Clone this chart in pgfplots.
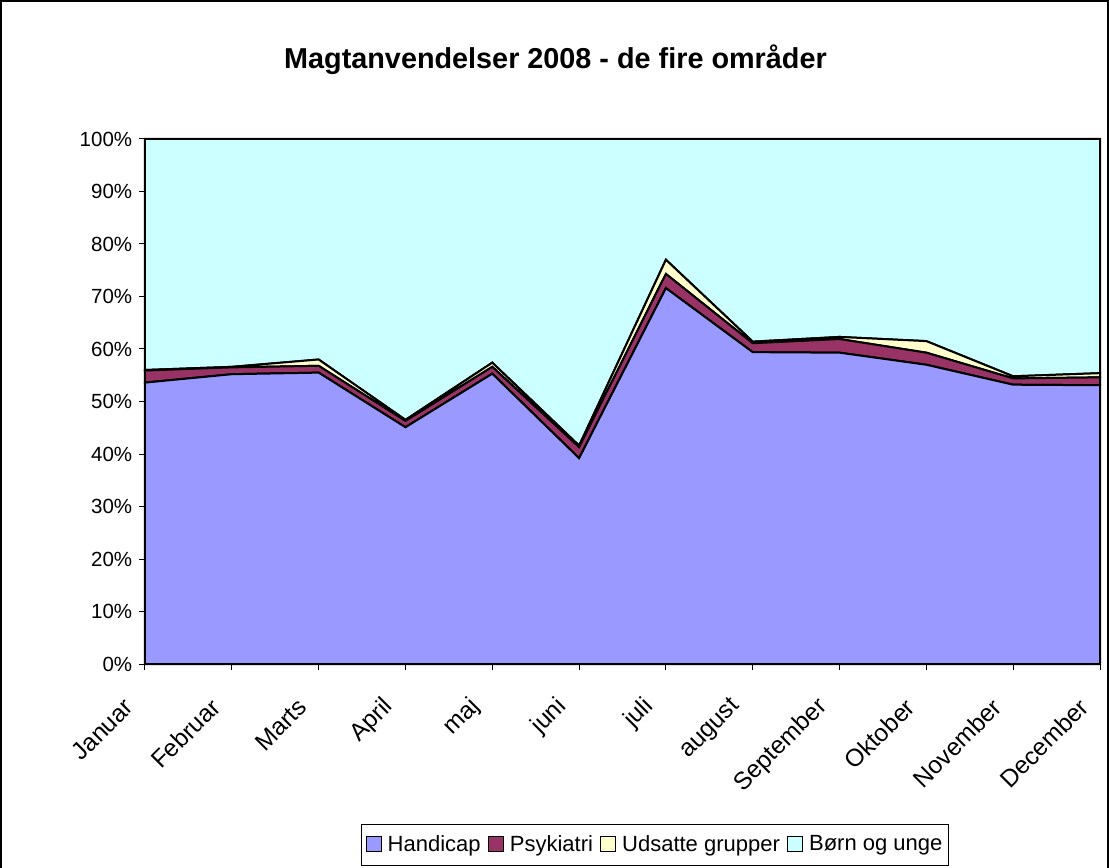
\documentclass[border=0pt]{standalone}
\usepackage{pgfplots}
\pgfplotsset{compat=1.18}
\usepackage{fontspec}
\setmainfont{Liberation Sans}
\definecolor{hand}{HTML}{9999FF}
\definecolor{psyk}{HTML}{993366}
\definecolor{uds}{HTML}{FFFFCC}
\definecolor{born}{HTML}{CCFFFF}
\begin{document}
\fontsize{20bp}{24bp}\selectfont
\begin{tikzpicture}
\begin{axis}[
  scale only axis,
  width=955bp, height=525bp,
  at={(0,0)}, anchor=south west,
  xmin=0, xmax=11, ymin=0, ymax=100,
  stack plots=y,
  axis x line=bottom, axis y line=left,
  axis line style={-, line width=1bp},
  xtick={0,...,11},
  xticklabels={Januar,Februar,Marts,April,maj,juni,juli,august,September,Oktober,November,December},
  ytick={0,10,...,100},
  yticklabels={0\%,10\%,20\%,30\%,40\%,50\%,60\%,70\%,80\%,90\%,100\%},
  tick align=outside,
  major tick length=6bp,
  tick style={black, line width=1bp},
  every tick label/.append style={font=\fontsize{20.5bp}{24bp}\selectfont},
  x tick label style={font=\fontsize{24.5bp}{28bp}\selectfont, inner sep=0pt, xshift=-16bp, yshift=-33bp, rotate=45, anchor=east},
  legend columns=4,
  legend style={at={(0.534,-0.344)}, anchor=center, draw=black, line width=1bp,
    font=\fontsize{22bp}{26bp}\selectfont, inner xsep=4bp, inner ysep=9bp,
    /tikz/every odd column/.append style={column sep=4bp},
    /tikz/every even column/.append style={column sep=5bp}},
  legend image code/.code={\draw[#1, line width=1.2bp, draw=black] (0bp,-7bp) rectangle (15bp,8bp);},
  clip=false,
]
\addplot[fill=hand, draw=black, line width=2bp] coordinates {(0,53.6) (1,55.2) (2,55.5) (3,45.1) (4,55.3) (5,39.2) (6,71.6) (7,59.4) (8,59.3) (9,57.0) (10,53.2) (11,53.1)} \closedcycle;
\addlegendentry{Handicap}
\addplot[fill=psyk, draw=black, line width=2bp] coordinates {(0,2.3) (1,1.3) (2,1.3) (3,1.2) (4,1.3) (5,2.1) (6,2.7) (7,1.7) (8,2.6) (9,2.3) (10,1.2) (11,1.5)} \closedcycle;
\addlegendentry{Psykiatri}
\addplot[fill=uds, draw=black, line width=2bp] coordinates {(0,0.1) (1,0.1) (2,1.2) (3,0.2) (4,0.8) (5,0.3) (6,2.7) (7,0.3) (8,0.4) (9,2.2) (10,0.4) (11,0.8)} \closedcycle;
\addlegendentry{Udsatte grupper}
\addplot[fill=born, draw=black, line width=2bp] coordinates {(0,44.0) (1,43.4) (2,42.0) (3,53.5) (4,42.6) (5,58.4) (6,23.0) (7,38.6) (8,37.7) (9,38.5) (10,45.2) (11,44.6)} \closedcycle;
\addlegendentry{Børn og unge}
\end{axis}
\node[font=\fontsize{28.8bp}{32bp}\selectfont\bfseries] at (410.5bp,604bp) {Magtanvendelser 2008 - de fire områder};
\draw[line width=1.5bp] (-144bp,-210bp) -- (-144bp,663bp) -- (963bp,663bp) -- (963bp,-210bp);
\pgfresetboundingbox
\useasboundingbox (-145bp,-204bp) rectangle (964bp,664bp);
\end{tikzpicture}
\end{document}
